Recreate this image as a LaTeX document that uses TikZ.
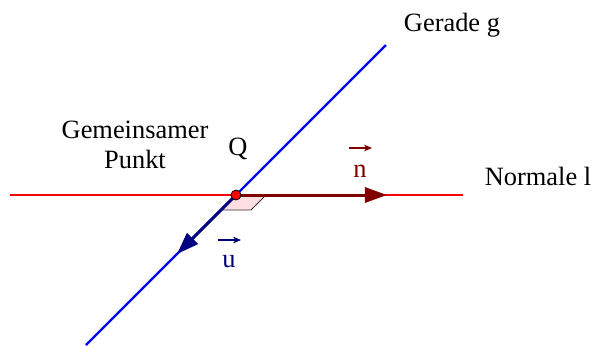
\documentclass[tikz,border=0pt]{standalone}
\usepackage{fontspec}
\setmainfont{Liberation Serif}
\usetikzlibrary{arrows.meta}
\definecolor{darkred}{RGB}{128,0,0}
\definecolor{navyblue}{RGB}{0,0,128}
\definecolor{lightpink}{RGB}{255,222,225}
\tikzset{
  lbl/.style={font=\fontsize{13.2}{15}\selectfont, inner sep=0pt},
  vecline/.style={line width=1.5pt, -{Triangle[length=11pt,width=7.5pt]}},
  smallvec/.style={line width=0.55pt, -{Stealth[length=4pt,width=3.4pt]}},
}
\begin{document}
\begin{tikzpicture}[x=0.5pt,y=-0.5pt]
\useasboundingbox (0,0) rectangle (591,345);
\coordinate (Q) at (236,195);
\coordinate (lL) at (10,195);
\coordinate (lR) at (463,195);
\coordinate (gT) at (386,45);
\coordinate (gB) at (86,345);
\coordinate (nT) at (387,195);
\coordinate (uT) at (177,254);
\coordinate (pA) at (266,195);
\coordinate (pB) at (251,210);
\coordinate (pC) at (221,210);
% lines
\draw[red, line width=0.6pt] (lL) -- (lR);
\draw[blue, line width=1.1pt] (gB) -- (gT);
% right angle marker
\draw[fill=lightpink, draw=black!80, line width=0.4pt] (Q) -- (pA) -- (pB) -- (pC) -- cycle;
% vectors
\draw[vecline, darkred] (Q) -- (nT);
\draw[vecline, navyblue] (Q) -- (uT);
% point
\node[circle, fill=red, draw=black, line width=0.4pt, minimum size=5pt, inner sep=0pt] (Qpt) at (Q) {};
% labels
\node[lbl] (gerade) at (452,25) {Gerade g};
\node[lbl] (normale) at (538,176) {Normale l};
\node[lbl, align=center] (gem) at (135,145) {Gemeinsamer\\[0pt]Punkt};
\node[lbl] (qlab) at (238,149) {Q};
\node[lbl, text=darkred] (nlab) at (360,171) {n};
\draw[smallvec, darkred] ([shift={(-11,-23)}]nlab.center) -- ([shift={(12,-23)}]nlab.center);
\node[lbl, text=navyblue] (ulab) at (229,262) {u};
\draw[smallvec, navyblue] ([shift={(-11,-22)}]ulab.center) -- ([shift={(12,-22)}]ulab.center);
\end{tikzpicture}
\end{document}
